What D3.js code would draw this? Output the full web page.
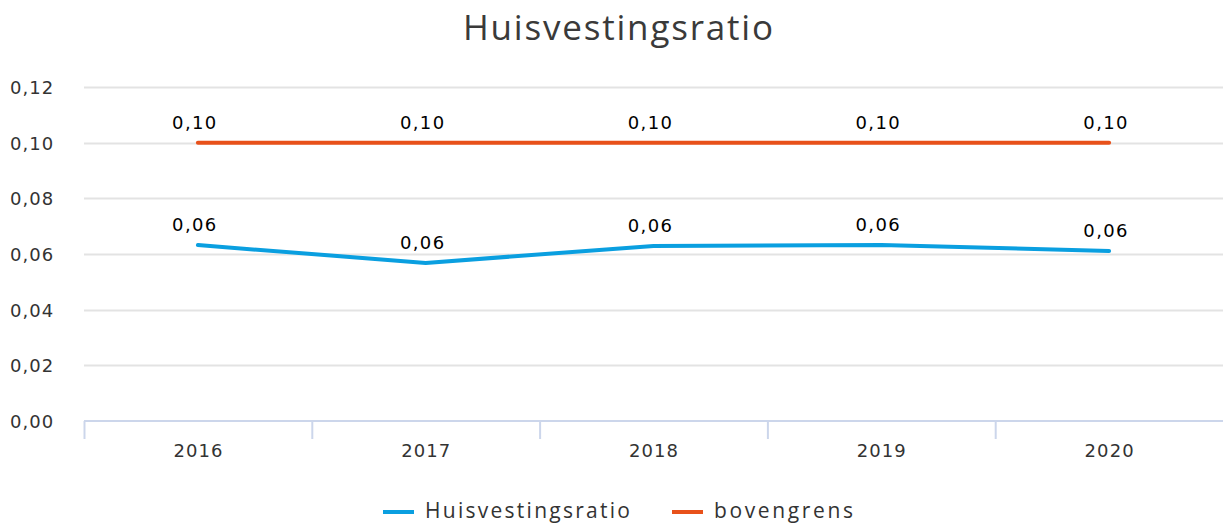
<!DOCTYPE html>
<html>
<head>
<meta charset="utf-8">
<script src="https://cdn.jsdelivr.net/npm/d3@7"></script>
<style>
  html, body { margin: 0; padding: 0; background: #fff; }
  svg { display: block; }
</style>
</head>
<body>
<svg id="chart" width="1223" height="527"></svg>
<script>
// Chart data
const years = ["2016", "2017", "2018", "2019", "2020"];
const huisvestingsratio = [0.0632, 0.0568, 0.0629, 0.0632, 0.0611];
const bovengrens = [0.10, 0.10, 0.10, 0.10, 0.10];
const yTicks = [0, 0.02, 0.04, 0.06, 0.08, 0.10, 0.12];
const seriesNames = ["Huisvestingsratio", "bovengrens"];

const colors = { Huisvestingsratio: "#0a9fe0", bovengrens: "#e8511a" };
const numFont = "Verdana, 'DejaVu Sans', sans-serif";
const textFont = "'Open Sans', Lato, sans-serif";
const numStretch = 1.06; // slightly wide numeric glyphs
const numSpacing = 1;

const W = 1223, H = 527;
const margin = { left: 84, right: 0, top: 87, bottom: 106 };
const svg = d3.select("#chart");

const x = d3.scaleBand().domain(years).range([margin.left, W - margin.right]);
const y = d3.scaleLinear().domain([0, 0.12]).range([H - margin.bottom, margin.top]);
const fmt = v => d3.format(".2f")(v).replace(".", ",");

// Title
svg.append("text")
  .attr("x", 463).attr("y", 40)
  .attr("font-family", textFont)
  .attr("font-size", 35)
  .attr("fill", "#3a3a3a")
  .attr("textLength", 310)
  .attr("lengthAdjust", "spacing")
  .text("Huisvestingsratio");

// Horizontal grid lines
svg.append("g").selectAll("line")
  .data(yTicks.filter(t => t > 0))
  .join("line")
  .attr("x1", margin.left).attr("x2", W)
  .attr("y1", d => Math.round(y(d)) + 0.5).attr("y2", d => Math.round(y(d)) + 0.5)
  .attr("stroke", "#e3e3e3").attr("stroke-width", 2);

// Y axis labels
const yAxis = d3.axisLeft(y).tickValues(yTicks).tickFormat(fmt).tickSize(0).tickPadding(0);
const gy = svg.append("g").attr("transform", `translate(${10},1)`).call(yAxis);
gy.select(".domain").remove();
gy.selectAll("text")
  .attr("text-anchor", "start")
  .attr("x", 0)
  .attr("transform", `scale(${numStretch},1)`)
  .attr("letter-spacing", numSpacing)
  .attr("font-family", numFont)
  .attr("font-size", 17)
  .attr("fill", "#333");

// X axis with tick marks at band boundaries
const xAxis = d3.axisBottom(x).tickSize(0).tickPadding(24);
const gx = svg.append("g").attr("transform", `translate(0,${y(0)})`).call(xAxis);
gx.select(".domain").attr("stroke", "#ccd6eb").attr("stroke-width", 2)
  .attr("d", `M${margin.left},0H${W}`);
gx.selectAll("text")
  .attr("transform", `scale(${numStretch},1)`)
  .attr("letter-spacing", numSpacing)
  .attr("dx", numSpacing / 2)
  .attr("font-family", numFont)
  .attr("font-size", 17)
  .attr("fill", "#333");
const bounds = years.map(d => x(d));
gx.append("g").selectAll("line")
  .data(bounds)
  .join("line")
  .attr("x1", d => d + 0.5).attr("x2", d => d + 0.5)
  .attr("y1", 0).attr("y2", 18)
  .attr("stroke", "#ccd6eb").attr("stroke-width", 2);

// Lines
const cx = d => x(d) + x.bandwidth() / 2;
const series = [
  { name: "Huisvestingsratio", values: huisvestingsratio },
  { name: "bovengrens", values: bovengrens }
];
const line = d3.line().x((d, i) => cx(years[i])).y(d => y(d));

series.forEach(s => {
  svg.append("path")
    .datum(s.values)
    .attr("d", line)
    .attr("fill", "none")
    .attr("stroke", colors[s.name])
    .attr("stroke-width", 4)
    .attr("stroke-linecap", "round")
    .attr("stroke-linejoin", "round");

  svg.append("g").selectAll("text")
    .data(s.values)
    .join("text")
    .attr("transform", (d, i) => `translate(${cx(years[i]) - 3},${y(d) - 14}) scale(${numStretch},1)`)
    .attr("text-anchor", "middle")
    .attr("letter-spacing", numSpacing + 0.3)
    .attr("font-family", numFont)
    .attr("font-size", 17)
    .attr("fill", "#000")
    .text(d => fmt(d));
});

// Legend
const legendItems = [
  { name: seriesNames[0], x: 383, width: 205 },
  { name: seriesNames[1], x: 672, width: 139 }
];
const lg = svg.append("g");
legendItems.forEach(it => {
  lg.append("line")
    .attr("x1", it.x).attr("x2", it.x + 31)
    .attr("y1", 512).attr("y2", 512)
    .attr("stroke", colors[it.name]).attr("stroke-width", 4);
  lg.append("text")
    .attr("x", it.x + 42).attr("y", 518)
    .attr("font-family", textFont)
    .attr("font-size", 21)
    .attr("fill", "#333")
    .attr("textLength", it.width)
    .attr("lengthAdjust", "spacing")
    .text(it.name);
});
</script>
</body>
</html>
